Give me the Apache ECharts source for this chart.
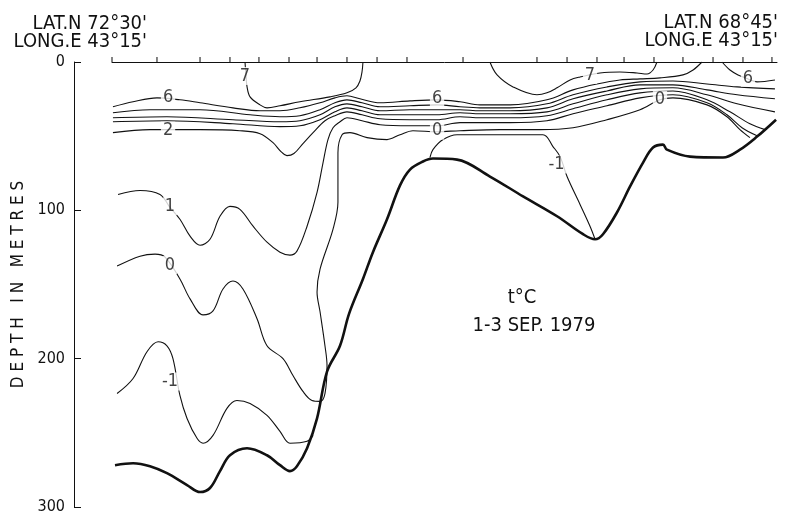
<!DOCTYPE html>
<html><head><meta charset="utf-8">
<script src="https://cdn.jsdelivr.net/npm/echarts@6/dist/echarts.min.js"></script>
<style>html,body{margin:0;padding:0;background:#fff}#c{width:787px;height:515px}</style>
</head><body><div id="c"></div>
<script>
const FONT = "'DejaVu Sans Condensed','Liberation Sans Narrow','DejaVu Sans',sans-serif";

// station positions along the section (km from the northern end)
const stationKm = [0, 28.4, 55.6, 74.5, 92.8, 111.8, 129.5, 148.4, 167.4, 186.3, 221.7, 268.4, 287.4, 306.3, 323.4, 342.3, 360.6, 379.6, 398.5, 416.8];

// sea bottom [km, depth m]
const seabed = [[1.9,271.8],[13.3,270.5],[24.0,272.5],[34.7,277.2],[47.4,285.2],[55.6,289.9],[61.9,287.2],[68.2,275.8],[74.5,265.1],[85.3,260.4],[97.9,265.1],[106.1,271.8],[112.4,275.8],[116.8,272.5],[123.2,260.4],[129.5,240.3],[135.8,208.7],[144.0,191.3],[149.7,169.8],[158.5,146.3],[164.8,128.2],[173.7,106.0],[181.9,83.2],[188.2,72.5],[196.4,67.1],[202.7,65.1],[217.9,65.8],[238.7,77.2],[259.6,90.6],[281.1,104.0],[297.5,116.1],[305.1,119.5],[310.1,116.1],[319.0,101.3],[327.2,83.9],[335.4,67.8],[341.7,57.7],[348.0,55.7],[350.5,59.1],[365.1,63.8],[385.9,64.4],[396.6,59.1],[407.4,50.3],[419.4,38.9]];

// isotherms [km, depth m]
const iso7a = [[84.0,0],[84.6,8.7],[85.3,16.8],[87.2,23.5],[93.5,28.9],[97.9,30.9],[106.1,29.5],[118.7,26.8],[137.7,23.5],[148.4,20.8],[154.1,17.4],[156.6,12.8],[157.9,6.7],[158.5,0]];
const iso7b = [[238.7,0],[243.2,8.7],[253.3,16.8],[268.4,22.1],[274.7,20.8],[281.1,17.4],[289.3,12.1],[295.6,10.1],[308.2,7.4],[320.8,6.7],[331.6,7.4],[337.9,8.1],[341.7,5.4],[344.2,0]];
const iso6a = [[0.6,30.2],[13.3,26.8],[28.4,24.2],[42.9,25.5],[55.6,27.5],[76.4,30.9],[93.5,32.9],[106.1,32.9],[118.7,30.9],[131.4,27.5],[140.8,24.2],[148.4,22.8],[156.6,24.8],[169.3,27.5],[188.2,26.2],[205.3,25.5],[219.8,26.8],[232.4,28.9],[251.4,28.9],[274.7,25.5],[291.2,18.8],[306.3,14.8],[320.8,12.1],[333.5,11.4],[346.1,10.7],[360.6,8.7],[367.0,5.4],[372.6,0]];
const iso6b = [[385.3,0],[390.3,5.4],[395.4,8.7],[401.7,11.4],[407.4,13.4],[418.7,12.1]];
const iso5 = [[0.6,34.2],[24.0,32.2],[55.6,32.2],[87.2,35.6],[106.1,36.9],[118.7,36.2],[131.4,32.2],[140.8,27.5],[148.4,25.5],[157.9,27.5],[169.3,30.2],[188.2,29.5],[205.3,28.9],[219.8,30.2],[232.4,30.9],[251.4,30.9],[274.7,28.2],[291.2,22.1],[312.6,16.8],[333.5,13.4],[354.3,12.8],[375.8,14.8],[394.8,16.8],[418.7,18.1]];
const iso4 = [[0.6,37.6],[34.7,36.9],[76.4,38.9],[106.1,40.3],[118.7,39.6],[131.4,35.6],[140.8,30.2],[148.4,28.2],[157.9,30.2],[169.3,32.9],[188.2,32.2],[205.3,32.2],[219.8,32.2],[232.4,32.9],[251.4,32.9],[274.7,30.9],[291.2,24.8],[312.6,19.5],[333.5,15.4],[354.3,15.4],[375.8,18.8],[394.8,22.1],[418.7,24.8]];
const iso3 = [[0.6,40.3],[34.7,39.6],[76.4,41.6],[106.1,43.6],[118.7,43.0],[131.4,38.9],[140.8,33.6],[148.4,30.9],[157.9,32.9],[169.3,35.6],[188.2,35.6],[205.3,35.6],[219.8,34.2],[232.4,34.9],[251.4,34.9],[274.7,33.6],[291.2,28.2],[312.6,22.1],[333.5,18.1],[354.3,17.4],[375.8,22.1],[394.8,28.2],[418.7,33.6]];
const iso2 = [[0.6,47.6],[24.0,45.6],[55.6,45.6],[80.8,46.3],[93.5,48.3],[101.7,54.4],[106.7,60.4],[110.5,63.1],[114.9,61.7],[120.6,55.0],[127.0,47.6],[134.5,39.6],[140.8,36.2],[148.4,33.6],[157.9,35.6],[169.3,38.3],[188.2,38.9],[205.3,38.9],[219.8,36.9],[232.4,37.6],[251.4,37.6],[274.7,36.2],[291.2,31.5],[312.6,25.5],[333.5,20.8],[354.3,19.5],[375.8,25.5],[390.3,33.6],[402.9,41.6],[412.4,45.6]];
const iso1 = [[3.8,89.3],[17.7,86.6],[30.3,89.3],[36.6,98.0],[42.9,106.0],[49.3,117.4],[55.6,123.5],[61.9,119.5],[68.2,104.0],[74.5,97.3],[80.8,99.3],[89.1,110.7],[97.9,121.5],[106.1,128.2],[112.4,130.2],[116.8,127.5],[123.2,110.7],[129.5,87.9],[133.3,67.8],[136.4,52.3],[139.6,44.3],[144.0,40.3],[148.4,37.6],[157.9,39.6],[169.3,42.3],[188.2,43.0],[205.3,43.0],[219.8,40.9],[232.4,40.9],[251.4,40.9],[274.7,39.6],[291.2,34.9],[312.6,29.5],[333.5,24.2],[354.3,22.1],[375.8,27.5],[388.4,35.6],[397.9,44.3],[407.4,49.7]];
const iso0 = [[3.2,137.6],[17.7,130.9],[27.2,129.5],[33.5,131.5],[42.9,146.3],[49.3,159.7],[57.5,170.5],[63.8,167.8],[70.1,153.0],[76.4,147.6],[82.7,153.0],[91.6,173.1],[97.9,191.3],[108.0,200.0],[114.3,211.4],[120.6,222.1],[126.3,228.2],[131.4,228.8],[134.5,223.5],[135.8,204.7],[134.5,191.3],[131.4,168.4],[129.5,155.0],[131.4,139.6],[139.6,112.7],[142.7,94.6],[142.7,61.1],[145.3,49.0],[150.3,47.6],[161.1,51.0],[173.7,52.3],[181.9,49.0],[190.1,46.3],[205.3,47.0],[219.8,46.3],[245.1,45.6],[270.3,45.6],[291.2,44.3],[312.6,38.9],[333.5,32.2],[346.1,25.5],[354.3,24.2],[375.8,28.9],[388.4,36.9],[396.6,45.6],[402.9,51.0]];
const isoM1a = [[3.2,223.5],[13.3,213.4],[22.1,195.3],[29.1,188.6],[34.7,191.3],[38.5,200.0],[42.9,224.8],[47.4,240.3],[53.7,253.7],[57.5,257.0],[63.8,251.7],[72.6,233.5],[78.9,228.2],[87.2,230.2],[97.9,238.2],[106.1,249.0],[112.4,257.0],[123.2,255.7],[127.0,251.7]];
const isoM1b = [[200.8,64.4],[202.7,59.1],[209.1,52.3],[217.9,49.0],[272.2,49.0],[278.5,57.0],[283.0,63.8],[287.4,77.2],[295.6,96.0],[301.9,110.7],[305.1,119.5]];

// isotherm labels
const labelText = ['7','6','2','6','0','7','0','6','1','0','-1','-1'];
const labelKm = [84.0, 35.4, 35.4, 205.3, 205.3, 301.9, 346.1, 401.7, 36.6, 36.6, 36.6, 280.8];
const labelDepth = [9.4, 23.5, 46.3, 24.8, 46.3, 8.7, 25.5, 10.7, 97.3, 136.9, 215.4, 69.1];

const contours = [iso7a, iso7b, iso6a, iso6b, iso5, iso4, iso3, iso2, iso1, iso0, isoM1a, isoM1b];

const series = contours.map(d => ({
  type: 'line', data: d, symbol: 'none', smooth: 0.35, silent: true, z: 2,
  lineStyle: {color: '#111', width: 1.1}
}));
series.push({
  type: 'line', data: seabed, symbol: 'none', smooth: 0.35, silent: true, z: 3,
  lineStyle: {color: '#111', width: 2.6}
});
series.push({
  type: 'scatter', data: stationKm.map(k => [k, 0]), symbol: 'rect', symbolSize: [1.3, 5],
  symbolOffset: [0, -2.5], clip: false, silent: true, itemStyle: {color: '#111'}, z: 4
});
series.push({
  type: 'scatter', silent: true, z: 5, symbolSize: 1, itemStyle: {color: 'rgba(0,0,0,0)'},
  data: labelText.map((t, i) => ({name: t, value: [labelKm[i], labelDepth[i]]})),
  label: {show: true, position: 'inside', formatter: '{b}', color: '#111', fontSize: 18,
    fontFamily: FONT, backgroundColor: '#fff', padding: [0, 2]}
});

const chart = echarts.init(document.getElementById('c'), null, {renderer: 'canvas'});
chart.setOption({
  backgroundColor: '#fff',
  animation: false,
  grid: {left: 112, right: 10, top: 62, bottom: 6},
  xAxis: {type: 'value', min: 0, max: 420, position: 'top',
    axisLine: {show: true, onZero: false, lineStyle: {color: '#111', width: 1}},
    axisTick: {show: false}, axisLabel: {show: false}, splitLine: {show: false}},
  yAxis: {type: 'value', inverse: true, min: 0, max: 300, interval: 100, offset: 38,
    axisLine: {show: true, onZero: false, lineStyle: {color: '#111', width: 1}},
    axisTick: {show: true, inside: true, length: 7, lineStyle: {color: '#111'}},
    axisLabel: {color: '#111', fontSize: 16, margin: 9, fontFamily: FONT},
    splitLine: {show: false},
    name: 'D E P T H   I N   M E T R E S', nameLocation: 'middle', nameRotate: 90, nameGap: 47,
    nameTextStyle: {color: '#111', fontSize: 17, fontFamily: FONT}},
  graphic: [
    {type: 'text', x: 147, y: 24, style: {text: "LAT.N 72°30'", textAlign: 'right', textVerticalAlign: 'middle', fontSize: 20, fontFamily: FONT, fill: '#111'}},
    {type: 'text', x: 147, y: 42, style: {text: "LONG.E 43°15'", textAlign: 'right', textVerticalAlign: 'middle', fontSize: 20, fontFamily: FONT, fill: '#111'}},
    {type: 'text', x: 778, y: 23, style: {text: "LAT.N 68°45'", textAlign: 'right', textVerticalAlign: 'middle', fontSize: 20, fontFamily: FONT, fill: '#111'}},
    {type: 'text', x: 778, y: 41, style: {text: "LONG.E 43°15'", textAlign: 'right', textVerticalAlign: 'middle', fontSize: 20, fontFamily: FONT, fill: '#111'}},
    {type: 'text', x: 522, y: 298, style: {text: 't°C', textAlign: 'center', textVerticalAlign: 'middle', fontSize: 20, fontFamily: FONT, fill: '#111'}},
    {type: 'text', x: 534, y: 326, style: {text: '1-3 SEP. 1979', textAlign: 'center', textVerticalAlign: 'middle', fontSize: 20, fontFamily: FONT, fill: '#111'}}
  ],
  series: series
});
</script>
</body></html>
